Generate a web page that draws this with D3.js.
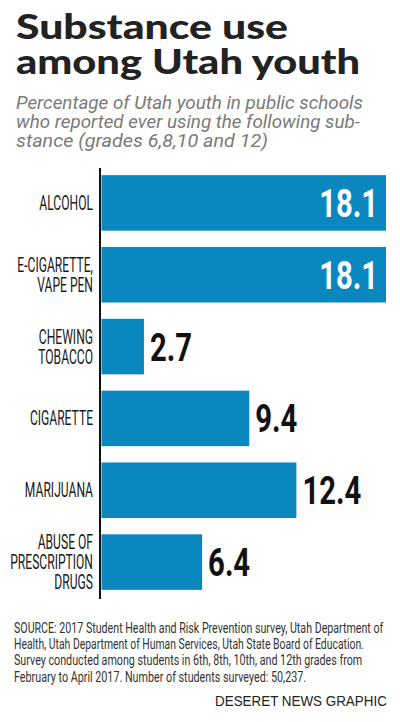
<!DOCTYPE html>
<html>
<head>
<meta charset="utf-8">
<script src="https://cdn.jsdelivr.net/npm/d3@7"></script>
<style>
	body { margin: 0; background: #fff; }
	svg { display: block; }
</style>
</head>
<body>
<div id="chart-area"></div>
<script>

// data
let categories = [
	["ALCOHOL"],
	["E-CIGARETTE,", "VAPE PEN"],
	["CHEWING", "TOBACCO"],
	["CIGARETTE"],
	["MARIJUANA"],
	["ABUSE OF", "PRESCRIPTION", "DRUGS"]
];
let values = [18.1, 18.1, 2.7, 9.4, 12.4, 6.4];
let valueLabels = ["18.1", "18.1", "2.7", "9.4", "12.4", "6.4"];

let titleLines = ["Substance use", "among Utah youth"];
let subtitleLines = [
	"Percentage of Utah youth in public schools",
	"who reported ever using the following sub-",
	"stance (grades 6,8,10 and 12)"
];
let sourceLines = [
	"SOURCE: 2017 Student Health and Risk Prevention survey, Utah Department of",
	"Health, Utah Department of Human Services, Utah State Board of Education.",
	"Survey conducted among students in 6th, 8th, 10th, and 12th grades from",
	"February to April 2017. Number of students surveyed: 50,237."
];
let credit = "DESERET NEWS GRAPHIC";

// SVG Size
let width = 400,
	height = 722;

let condensed = "Roboto, 'Liberation Sans', sans-serif";

let svg = d3.select("#chart-area")
	.append("svg")
	.attr("width", width)
	.attr("height", height);

// squeeze each line of text horizontally so it spans the wanted width
function fitLines(cls, lines, x0, y0, step, widths) {
	svg.selectAll("." + cls)
		.data(lines)
		.enter()
		.append("g")
		.attr("class", cls)
		.append("text")
		.text(d => d)
		.each(function (d, i) {
			let natural = this.getComputedTextLength();
			d3.select(this.parentNode)
				.attr("transform", "translate(" + x0 + "," + (y0 + i * step) + ") scale(" + (widths[i] / natural) + ",1)");
		});
	return svg.selectAll("." + cls + " text");
}

// title
fitLines("title", titleLines, 16, 39, 35, [272, 344])
	.style("font-family", "Lato, 'Open Sans', sans-serif")
	.style("font-weight", 900)
	.style("font-size", "34px")
	.style("fill", "#222");

// styles first so the measurement uses the right font
svg.selectAll(".title text").each(function (d, i) {
	let natural = this.getComputedTextLength();
	d3.select(this.parentNode)
		.attr("transform", "translate(16," + (39 + i * 35) + ") scale(" + ([272, 344][i] / natural) + ",1)");
});

// subtitle
let sub = fitLines("subtitle", subtitleLines, 16, 108.5, 19, [347, 344, 252])
	.style("font-family", "Roboto, sans-serif")
	.style("font-style", "italic")
	.style("font-size", "18.5px")
	.style("fill", "#7a7a7a");
sub.each(function (d, i) {
	let natural = this.getComputedTextLength();
	d3.select(this.parentNode)
		.attr("transform", "translate(16," + (108.5 + i * 19) + ") scale(" + ([347, 344, 252][i] / natural) + ",1)");
});

// scales
let x = d3.scaleLinear()
	.domain([0, d3.max(values)])
	.range([101.5, 386]);

let y = d3.scaleBand()
	.domain(d3.range(values.length))
	.range([167, 598])
	.paddingInner(0.227)
	.paddingOuter(0.1135);

// bars
svg.selectAll("rect.bar")
	.data(values)
	.enter()
	.append("rect")
	.attr("class", "bar")
	.attr("x", x(0))
	.attr("y", (d, i) => y(i))
	.attr("width", d => x(d) - x(0))
	.attr("height", y.bandwidth())
	.attr("fill", "#0a87bf");

// axis line
let yAxis = d3.axisLeft(y).tickSize(0).tickFormat("");
svg.append("g")
	.attr("class", "axis y-axis")
	.attr("transform", "translate(100, 0)")
	.call(yAxis)
	.call(g => g.select(".domain")
		.attr("d", "M0,168V599")
		.attr("stroke", "#111")
		.attr("stroke-width", 2));

// category labels (squeezed horizontally to look condensed)
let cat = svg.selectAll(".cat")
	.data(categories)
	.enter()
	.append("g")
	.attr("class", "cat")
	.attr("transform", (d, i) => "translate(93," + (y(i) + y.bandwidth() / 2 + 7 - (d.length - 1) * 10) + ") scale(0.62,1)")
	.append("text")
	.style("text-anchor", "end")
	.style("font-family", condensed)
	.style("font-size", "19.5px")
	.style("fill", "#1a1a1a");

cat.selectAll("tspan")
	.data(d => d)
	.enter()
	.append("tspan")
	.attr("x", 0)
	.attr("dy", (d, i) => i == 0 ? 0 : 20)
	.text(d => d);

// value labels
svg.selectAll(".val")
	.data(values)
	.enter()
	.append("g")
	.attr("class", "val")
	.attr("transform", (d, i) => "translate(" + (d > 15 ? x(d) - 8 : x(d) + 6) + "," + (y(i) + y.bandwidth() / 2 + 14) + ") scale(0.75,1)")
	.append("text")
	.text((d, i) => valueLabels[i])
	.style("text-anchor", d => d > 15 ? "end" : "start")
	.style("font-family", condensed)
	.style("font-weight", "bold")
	.style("font-size", "39px")
	.style("fill", d => d > 15 ? "#fff" : "#111");

// source
let src = fitLines("source", sourceLines, 14, 633, 16.2, [369, 350, 348, 292])
	.style("font-family", condensed)
	.style("font-size", "15px")
	.style("fill", "#333");
src.each(function (d, i) {
	let natural = this.getComputedTextLength();
	d3.select(this.parentNode)
		.attr("transform", "translate(14," + (633 + i * 16.2) + ") scale(" + ([369, 350, 348, 292][i] / natural) + ",1)");
});

// credit
svg.append("g")
	.attr("class", "credit")
	.append("text")
	.text(credit)
	.style("font-family", "'Liberation Sans', Arial, sans-serif")
	.style("font-size", "15.5px")
	.style("fill", "#222")
	.each(function () {
		let natural = this.getComputedTextLength();
		d3.select(this.parentNode)
			.attr("transform", "translate(215,706) scale(" + (172 / natural) + ",1)");
	});

</script>
</body>
</html>
